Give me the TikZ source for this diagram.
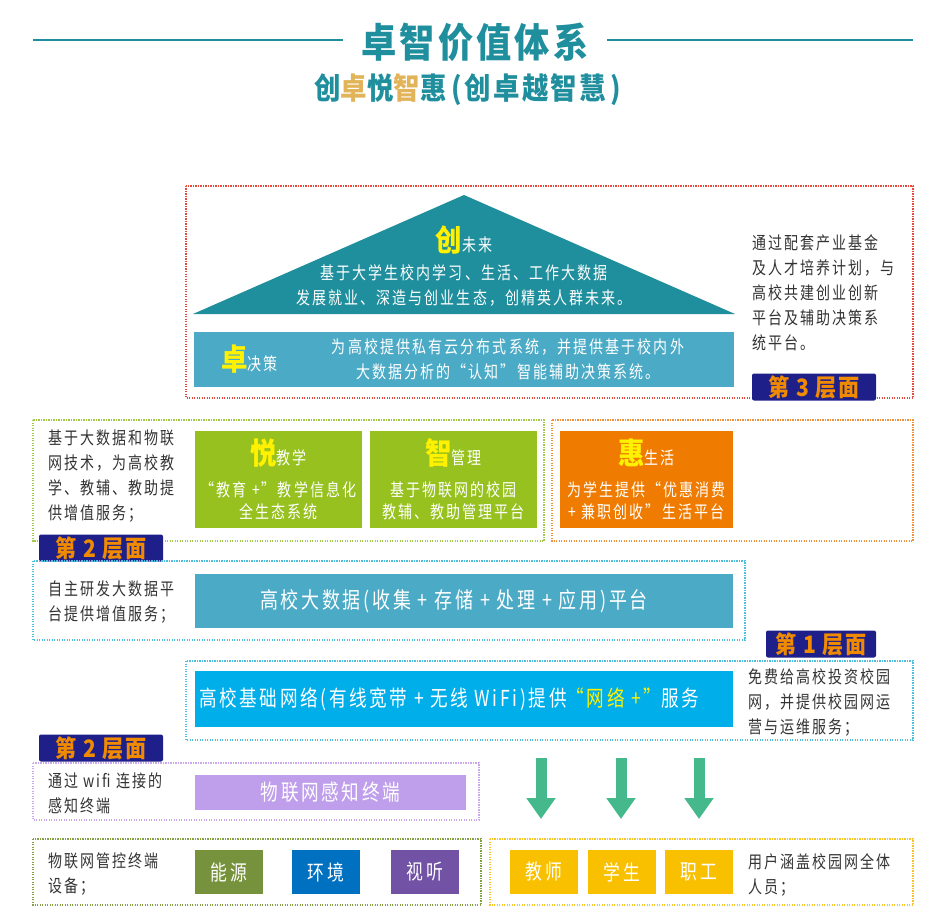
\documentclass[tikz,border=0pt]{standalone}
\usepackage{fontspec}
\newfontfamily\cjk[FakeStretch=0.8,LetterSpace=12]{Noto Sans CJK SC}
\newfontfamily\cjkb[FakeStretch=0.88,LetterSpace=8]{Noto Sans CJK SC}
\usetikzlibrary{arrows.meta,positioning}

\definecolor{zhteal}{HTML}{1F8E9D}
\definecolor{zhgold}{HTML}{E2B459}
\definecolor{zhsky}{HTML}{4BAAC6}
\definecolor{zhcyan}{HTML}{00AEEA}
\definecolor{zhlime}{HTML}{96C11F}
\definecolor{zhorange}{HTML}{EF7C00}
\definecolor{zhlilac}{HTML}{BF9FEB}
\definecolor{zholive}{HTML}{77923C}
\definecolor{zhblue}{HTML}{0070C0}
\definecolor{zhpurple}{HTML}{7152A4}
\definecolor{zhamber}{HTML}{F9C000}
\definecolor{zhmint}{HTML}{45B98C}
\definecolor{zhnavy}{HTML}{1F1F8A}
\definecolor{zhbadge}{HTML}{F08A00}
\definecolor{zhyellow}{HTML}{FFF100}
\definecolor{zhink}{HTML}{333333}
\definecolor{frred}{HTML}{E5473B}
\definecolor{frlime}{HTML}{A2C94A}
\definecolor{frorange}{HTML}{F0903A}
\definecolor{frcyan}{HTML}{4FBFE0}
\definecolor{frlilac}{HTML}{C9A8EE}
\definecolor{frolive}{HTML}{86A046}
\definecolor{framber}{HTML}{F6C42A}

\newcommand{\bigch}[1]{{\cjkb\bfseries\fontsize{30}{30}\selectfont\color{zhyellow}#1}}

\begin{document}
\begin{tikzpicture}[x=1pt,y=-1pt,
  frame/.style={draw=#1, line width=1.1pt, dash pattern=on 1.1pt off 1.4pt},
  tile/.style={fill=#1, inner sep=0pt},
  body/.style={font=\cjk\fontsize{17.5}{22}\selectfont, text=white, align=center, inner sep=0pt},
  note/.style={font=\cjk\fontsize{17.5}{25}\selectfont, text=zhink, align=left, inner sep=0pt, anchor=north west},
  badge/.style={fill=zhnavy, rounded corners=2pt, text=zhbadge, font=\cjkb\bfseries\fontsize{24}{24}\selectfont,
    minimum width=124pt, minimum height=27pt, inner sep=0pt},
  down/.style={zhmint, line width=11pt, -{Triangle[width=28pt,length=21pt]}}]
  \useasboundingbox (0,0) rectangle (936,917);

  % heading
  \node[font=\cjkb\bfseries\fontsize{40}{40}\selectfont, text=zhteal, inner sep=0pt] (title) at (475,42) {卓智价值体系};
  \draw[zhteal, line width=2.5pt] (33,40) -- (343,40);
  \draw[zhteal, line width=2.5pt] (607,40) -- (913,40);
  \node[font=\cjkb\bfseries\fontsize{30}{30}\selectfont, text=zhteal, inner sep=0pt] (motto) at (468,90)
    {创{\color{zhgold}卓}悦{\color{zhgold}智}惠\,(创卓越智慧\,)};

  % layer 3
  \draw[frame=frred] (186,186) rectangle (913,398);
  \coordinate (apex) at (464,195);
  \fill[zhteal] (193,314) -- (apex) -- (735,314) -- cycle;
  \node[body] (chuang) at (464,240) {\bigch{创}未来};
  \node[body, font=\cjk\fontsize{17.5}{25}\selectfont, below=10pt of chuang] {基于大学生校内学习、生活、工作大数据\\发展就业、深造与创业生态，创精英人群未来。};
  \node[tile=zhsky, minimum width=540pt, minimum height=55pt] (zhuo) at (464,359.5) {};
  \node[body, anchor=west] at (221,359) {\bigch{卓}决策};
  \node[body, font=\cjk\fontsize{17.5}{25}\selectfont] at (508,359.5) {为高校提供私有云分布式系统，并提供基于校内外\\大数据分析的“认知”智能辅助决策系统。};
  \node[note] (n3) at (752,234) {通过配套产业基金\\及人才培养计划，与\\高校共建创业创新\\平台及辅助决策系\\统平台。};
  \node[badge] (lv3) at (814,387) {第 3 层面};

  % layer 2
  \draw[frame=frlime] (33,420) rectangle (544,541);
  \draw[frame=frorange] (552,420) rectangle (913,541);
  \node[note] (n2) at (48,430) {基于大数据和物联\\网技术，为高校教\\学、教辅、教助提\\供增值服务；};
  \node[tile=zhlime, minimum width=167pt, minimum height=97pt] (yue) at (278.5,479.5) {};
  \node[tile=zhlime, minimum width=167pt, minimum height=97pt] (zhi) at (453.5,479.5) {};
  \node[tile=zhorange, minimum width=173pt, minimum height=97pt] (hui) at (646.5,479.5) {};
  \node[body, below=8pt of yue.north] {\bigch{悦}教学};
  \node[body, below=8pt of zhi.north] {\bigch{智}管理};
  \node[body, below=8pt of hui.north] {\bigch{惠}生活};
  \node[body, above=8pt of yue.south] {“教育 +”教学信息化\\全生态系统};
  \node[body, above=8pt of zhi.south] {基于物联网的校园\\教辅、教助管理平台};
  \node[body, above=8pt of hui.south] {为学生提供“优惠消费\\+ 兼职创收”生活平台};
  \node[badge] (lv2a) at (101,548) {第 2 层面};

  % big data platform
  \draw[frame=frcyan] (33,561) rectangle (745,640);
  \node[note] (n2b) at (48,581) {自主研发大数据平\\台提供增值服务；};
  \node[tile=zhsky, minimum width=538pt, minimum height=54pt] (data) at (464,601) {};
  \node[body, font=\cjk\fontsize{22.5}{22}\selectfont] at ([xshift=-10pt]data) {高校大数据(收集 + 存储 + 处理 + 应用)平台};
  \node[badge, minimum width=110pt] (lv1) at (821,644) {第 1 层面};

  % layer 1
  \draw[frame=frcyan] (186,661) rectangle (913,740);
  \node[tile=zhcyan, minimum width=538pt, minimum height=56pt] (net) at (464,699) {};
  \node[body, font=\cjk\fontsize{22}{22}\selectfont, anchor=west] at (199,699)
    {高校基础网络(有线宽带 + 无线 WiFi)提供{\color{zhyellow}“网络 +”}服务};
  \node[note] (n1) at (748,668) {免费给高校投资校园\\网，并提供校园网运\\营与运维服务；};
  \node[badge] (lv2b) at (101,748) {第 2 层面};

  % sensing terminals
  \draw[frame=frlilac] (33,763) rectangle (479,820);
  \node[note] (nw) at (48,773) {通过 wifi 连接的\\感知终端};
  \node[tile=zhlilac, minimum width=271pt, minimum height=35pt] (iot) at (330.5,792.5) {};
  \node[body, font=\cjk\fontsize{22}{22}\selectfont] at (iot) {物联网感知终端};

  % arrows to users
  \coordinate (a1) at (541,758);
  \coordinate (b1) at (541,819);
  \coordinate (a2) at (621,758);
  \coordinate (b2) at (621,819);
  \coordinate (a3) at (699,758);
  \coordinate (b3) at (699,819);
  \draw[down] (a1) -- (b1);
  \draw[down] (a2) -- (b2);
  \draw[down] (a3) -- (b3);

  % devices and users
  \draw[frame=frolive] (33,839) rectangle (481,905);
  \draw[frame=framber] (490,839) rectangle (913,905);
  \node[note] (nd) at (48,853) {物联网管控终端\\设备；};
  \node[note] (nu) at (748,853) {用户涵盖校园网全体\\人员；};
  \foreach \x/\c/\t/\n in {229/zholive/能源/en, 326/zhblue/环境/env, 425/zhpurple/视听/av,
                           544/zhamber/教师/tea, 622/zhamber/学生/stu, 699/zhamber/职工/sta} {
    \node[tile=\c, minimum width=68pt, minimum height=44pt] (\n) at (\x,872) {};
    \node[body, font=\cjk\fontsize{21}{22}\selectfont] at (\n) {\t};
  }
\end{tikzpicture}
\end{document}
